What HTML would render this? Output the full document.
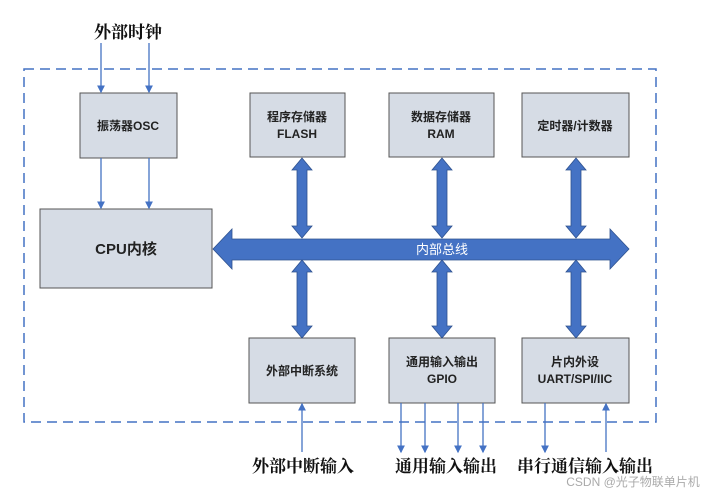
<!DOCTYPE html>
<html><head><meta charset="utf-8"><style>
body{margin:0;background:#fff;}
svg text{font-family:"Liberation Sans","Noto Sans CJK SC",sans-serif;}
.s{font-family:"Noto Serif CJK SC","Liberation Serif",serif !important;font-weight:bold;}
</style></head><body>
<svg width="704" height="495" viewBox="0 0 704 495" xmlns="http://www.w3.org/2000/svg">
<defs><marker id="a" markerWidth="6" markerHeight="6" refX="5" refY="3" orient="auto"><path d="M0,0 L6,3 L0,6z" fill="#4472c4"/></marker></defs>
<rect x="24" y="69" width="632" height="353" fill="none" stroke="#4472c4" stroke-width="1.5" stroke-dasharray="10,6"/>
<g fill="#d6dce5" stroke="#555" stroke-width="1">
<rect x="80" y="93" width="97" height="65"/>
<rect x="40" y="209" width="172" height="79"/>
<rect x="250" y="93" width="95" height="64"/>
<rect x="389" y="93" width="105" height="64"/>
<rect x="522" y="93" width="107" height="64"/>
<rect x="249" y="338" width="106" height="65"/>
<rect x="389" y="338" width="106" height="65"/>
<rect x="522" y="338" width="107" height="65"/>
</g>
<g stroke="#4472c4" stroke-width="1.3" marker-end="url(#a)">
<line x1="101" y1="43" x2="101" y2="92"/><line x1="149" y1="43" x2="149" y2="92"/>
<line x1="101" y1="158" x2="101" y2="208"/><line x1="149" y1="158" x2="149" y2="208"/>
<line x1="302" y1="452" x2="302" y2="404"/>
<line x1="401" y1="403" x2="401" y2="452"/><line x1="425" y1="403" x2="425" y2="452"/>
<line x1="458" y1="403" x2="458" y2="452"/><line x1="483" y1="403" x2="483" y2="452"/>
<line x1="545" y1="403" x2="545" y2="452"/><line x1="606" y1="452" x2="606" y2="404"/>
</g>
<g fill="#4472c4" stroke="#2f528f" stroke-width="0.8">
<path d="M213,249 L232,229 L232,239 L610,239 L610,229 L629,249 L610,269 L610,260 L232,260 L232,269 Z"/>
<path id="v" d="M302,158 L312,170 L307,170 L307,226 L312,226 L302,238 L292,226 L297,226 L297,170 L292,170 Z"/>
<path d="M302,260 L312,272 L307,272 L307,326 L312,326 L302,338 L292,326 L297,326 L297,272 L292,272 Z"/>
<path d="M442,158 L452,170 L447,170 L447,226 L452,226 L442,238 L432,226 L437,226 L437,170 L432,170 Z"/>
<path d="M442,260 L452,272 L447,272 L447,326 L452,326 L442,338 L432,326 L437,326 L437,272 L432,272 Z"/>
<path d="M576,158 L586,170 L581,170 L581,226 L586,226 L576,238 L566,226 L571,226 L571,170 L566,170 Z"/>
<path d="M576,260 L586,272 L581,272 L581,326 L586,326 L576,338 L566,326 L571,326 L571,272 L566,272 Z"/>
</g>
<g font-size="12" font-weight="bold" fill="#222" text-anchor="middle">
<text x="128" y="130">振荡器OSC</text>
<text x="126" y="254" font-size="15">CPU内核</text>
<text x="297" y="121">程序存储器</text><text x="297" y="138">FLASH</text>
<text x="441" y="121">数据存储器</text><text x="441" y="138">RAM</text>
<text x="575" y="130">定时器/计数器</text>
<text x="302" y="375">外部中断系统</text>
<text x="442" y="366">通用输入输出</text><text x="442" y="383">GPIO</text>
<text x="575" y="366">片内外设</text><text x="575" y="383">UART/SPI/IIC</text>
</g>
<text x="442" y="254" font-size="13" fill="#fff" text-anchor="middle">内部总线</text>
<g class="s" font-size="17" fill="#111" text-anchor="middle">
<text class="s" x="128" y="38">外部时钟</text>
<text class="s" x="303" y="472">外部中断输入</text>
<text class="s" x="446" y="472">通用输入输出</text>
<text class="s" x="585" y="472">串行通信输入输出</text>
</g>
<text x="633" y="486" font-size="12" fill="#aaa" text-anchor="middle">CSDN @光子物联单片机</text>
</svg>
</body></html>
